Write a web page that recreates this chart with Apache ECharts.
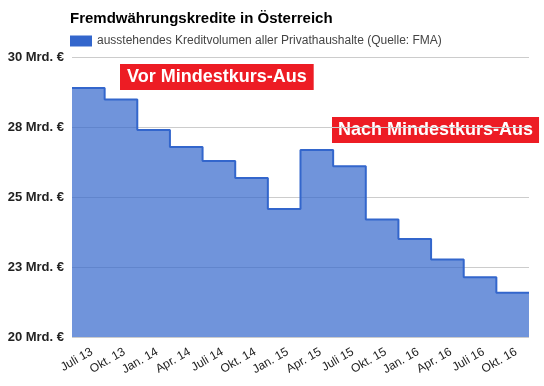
<!DOCTYPE html>
<html>
<head>
<meta charset="utf-8">
<script src="https://cdn.jsdelivr.net/npm/echarts@6/dist/echarts.min.js"></script>
<style>
html,body{margin:0;padding:0;background:#fff;}
#c{width:544px;height:386px;}
</style>
</head>
<body>
<div id="c"></div>
<script>
const categories = ['Juli 13','Okt. 13','Jan. 14','Apr. 14','Juli 14','Okt. 14','Jan. 15','Apr. 15','Juli 15','Okt. 15','Jan. 16','Apr. 16','Juli 16','Okt. 16'];
const values = [28.89, 28.48, 27.39, 26.79, 26.29, 25.68, 24.57, 26.68, 26.10, 24.20, 23.50, 22.77, 22.13, 21.58];
const yTickValues = [20, 22.5, 25, 27.5, 30];
const yTickLabels = ['20 Mrd. €', '23 Mrd. €', '25 Mrd. €', '28 Mrd. €', '30 Mrd. €'];
const seriesName = 'ausstehendes Kreditvolumen aller Privathaushalte (Quelle: FMA)';
const chartTitle = 'Fremdwährungskredite in Österreich';
const noteBefore = 'Vor Mindestkurs-Aus';
const noteAfter = 'Nach Mindestkurs-Aus';

// step data: each value spans one band [i, i+1]
const stepData = values.map((v, i) => [i, v]);
stepData.push([values.length, values[values.length - 1]]);

const font = '"Liberation Sans", Arial, sans-serif';
const chart = echarts.init(document.getElementById('c'), null, {renderer: 'canvas'});
chart.setOption({
  animation: false,
  textStyle: {fontFamily: font},
  title: {
    text: chartTitle,
    left: 70, top: 11, padding: 0,
    textStyle: {fontFamily: font, fontSize: 15, fontWeight: 'bold', color: '#000'}
  },
  legend: {
    left: 70, top: 35, padding: 0,
    icon: 'rect', itemWidth: 22, itemHeight: 11, itemGap: 5,
    textStyle: {fontFamily: font, fontSize: 12, color: '#444', padding: [0, 0, 0, 0]},
    data: [{name: seriesName, itemStyle: {color: '#3366cc', opacity: 1}}]
  },
  grid: {left: 72, right: 15, top: 57, bottom: 49, containLabel: false},
  xAxis: [
    {
      type: 'category', data: categories, boundaryGap: true,
      axisLine: {show: false}, axisTick: {show: false},
      axisLabel: {rotate: 30, fontFamily: font, fontSize: 12, color: '#222', margin: 16, interval: 0, padding: [0, -4, 0, 0]}
    },
    {type: 'value', min: 0, max: values.length, show: false}
  ],
  yAxis: {
    type: 'value', min: 20, max: 30, interval: 2.5,
    axisLine: {show: false}, axisTick: {show: false},
    splitLine: {lineStyle: {color: '#cccccc', width: 1}},
    axisLabel: {
      fontFamily: font, fontSize: 13, fontWeight: 'bold', color: '#222', margin: 8,
      formatter: v => yTickLabels[yTickValues.indexOf(v)] || ''
    }
  },
  series: [{
    name: seriesName,
    type: 'line',
    xAxisIndex: 1,
    step: 'end',
    data: stepData,
    symbol: 'none',
    lineStyle: {color: '#3366cc', width: 2},
    itemStyle: {color: '#3366cc'},
    areaStyle: {color: '#3366cc', opacity: 0.7},
    silent: true
  }],
  graphic: [
    {
      type: 'text', left: 120, top: 64,
      style: {
        text: noteBefore, fill: '#fff', font: 'bold 18px ' + font,
        backgroundColor: '#ed1c24', padding: [4, 7, 4, 7]
      }
    },
    {
      type: 'text', left: 332, top: 117,
      style: {
        text: noteAfter, fill: '#fff', font: 'bold 18px ' + font,
        backgroundColor: '#ed1c24', padding: [4, 6, 4, 6]
      }
    }
  ]
});
</script>
</body>
</html>
